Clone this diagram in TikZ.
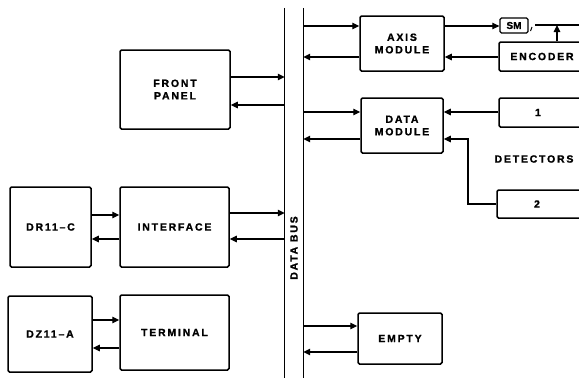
\documentclass[tikz,border=0pt]{standalone}
\usepackage{fontspec}
\setmainfont{Liberation Sans}
\usetikzlibrary{arrows.meta}
\tikzset{
  blk/.style={draw, line width=1.5pt, rounded corners=1.5pt, inner sep=0pt, align=center,
    font=\fontsize{10.5}{12.5}\selectfont\bfseries\addfontfeatures{LetterSpace=17,FakeBold=1.2}},
  lbl/.style={font=\fontsize{10.5}{12.5}\selectfont\bfseries\addfontfeatures{LetterSpace=17,FakeBold=1.2}},
  con/.style={line width=1.1pt},
  arr/.style={line width=1.1pt, -{Triangle[length=7pt,width=6.5pt]}},
  busline/.style={line width=1.3pt}
}
\begin{document}
\begin{tikzpicture}[x=1pt,y=-1pt]
\useasboundingbox (0,0) rectangle (579,378);
\clip (0,0) rectangle (579,378);
% left column
\node[blk, minimum width=110pt, minimum height=79pt] (front) at (175,89.5) {FRONT\\PANEL};
\node[blk, minimum width=81pt, minimum height=80pt] (dr) at (50.5,227) {DR11--C};
\node[blk, minimum width=109pt, minimum height=80pt] (intf) at (174.5,227) {INTERFACE};
\node[blk, minimum width=84pt, minimum height=76pt] (dz) at (50,334) {DZ11--A};
\node[blk, minimum width=109pt, minimum height=75pt] (term) at (174.5,332.5) {TERMINAL};
% bus
\node[minimum width=18pt, minimum height=370pt, inner sep=0pt] (bus) at (294,193) {};
\draw[busline] (bus.north west) -- (bus.south west);
\draw[busline] (bus.north east) -- (bus.south east);
\node[lbl, rotate=90] (buslbl) at (294,248) {DATA BUS};
% right column
\node[blk, minimum width=84pt, minimum height=55pt] (axis) at (402,43.5) {AXIS\\MODULE};
\node[blk, minimum width=82pt, minimum height=55pt] (data) at (402,125.5) {DATA\\MODULE};
\node[blk, minimum width=84pt, minimum height=51pt] (empty) at (400,338.5) {EMPTY};
\node[blk, line width=1.3pt, minimum width=28pt, minimum height=15pt, font=\fontsize{10}{11}\selectfont\bfseries\addfontfeatures{FakeBold=1.2}] (sm) at (514,25.5) {SM};
\node[blk, minimum width=86pt, minimum height=29pt] (enc) at (542,56.5) {ENCODER};
\node[blk, minimum width=86pt, minimum height=29pt] (d1) at (542,112.5) {1\hspace{8pt}};
\node[blk, minimum width=86pt, minimum height=28pt] (d2) at (540,204) {2\hspace{6pt}};
\node[lbl] (det) at (534,159) {DETECTORS};
\draw[line width=1pt] (530.5,31) -- (532,27);
% connectors left
\draw[arr] (front.east |- 0,77) -- (bus.west |- 0,77);
\draw[arr] (bus.west |- 0,105) -- (front.east |- 0,105);
\draw[arr] (dr.east |- 0,215) -- (intf.west |- 0,215);
\draw[arr] (intf.west |- 0,239) -- (dr.east |- 0,239);
\draw[arr] (intf.east |- 0,213) -- (bus.west |- 0,213);
\draw[arr] (bus.west |- 0,239) -- (intf.east |- 0,239);
\draw[arr] (dz.east |- 0,320) -- (term.west |- 0,320);
\draw[arr] (term.west |- 0,348) -- (dz.east |- 0,348);
% connectors right
\draw[arr] (bus.east |- 0,26) -- (axis.west |- 0,26);
\draw[arr] (axis.west |- 0,57) -- (bus.east |- 0,57);
\draw[arr] (axis.east |- 0,26) -- (sm.west |- 0,26);
\draw[arr] (enc.west |- 0,57) -- (axis.east |- 0,57);
\coordinate (smr) at (535,25);
\coordinate (smend) at (579,25);
\draw[con] (smr) -- (smend);
\draw[arr] (enc.north -| 557,0) -- (557,25);
\draw[arr] (bus.east |- 0,112) -- (data.west |- 0,112);
\draw[arr] (data.west |- 0,139) -- (bus.east |- 0,139);
\draw[arr] (d1.west |- 0,112) -- (data.east |- 0,112);
\coordinate (bend1) at (468,204);
\coordinate (bend2) at (468,139);
\draw[arr] (d2.west) -- (bend1) -- (bend2) -- (data.east |- 0,139);
\draw[arr] (bus.east |- 0,326) -- (empty.west |- 0,326);
\draw[arr] (empty.west |- 0,352) -- (bus.east |- 0,352);
\end{tikzpicture}
\end{document}
